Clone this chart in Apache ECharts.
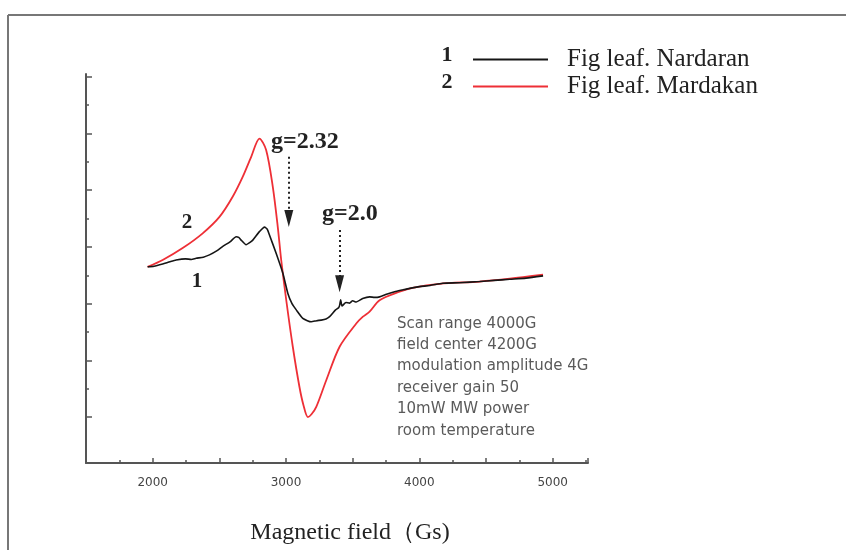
<!DOCTYPE html>
<html>
<head>
<meta charset="utf-8">
<script src="https://cdn.jsdelivr.net/npm/echarts@6/dist/echarts.min.js"></script>
<style>
html,body{margin:0;padding:0;background:#fff;}
#chart{width:846px;height:550px;}
</style>
</head>
<body>
<div id="chart"></div>
<script>
// ---- data (field in G, intensity in arbitrary units) ----
const seriesNames = ['Fig leaf. Nardaran', 'Fig leaf. Mardakan'];
const fieldBlack = [1962, 2010, 2075, 2130, 2176, 2246, 2290, 2326, 2380, 2426, 2480, 2526, 2580, 2626, 2645, 2660, 2701, 2730, 2751, 2801, 2839, 2860, 2876, 2926, 2976, 3014, 3045, 3077, 3126, 3160, 3189, 3230, 3264, 3300, 3327, 3372, 3395, 3402, 3410, 3420, 3450, 3477, 3500, 3527, 3575, 3627, 3665, 3702, 3760, 3815, 3870, 3927, 4000, 4080, 4175, 4300, 4453, 4560, 4678, 4800, 4928];
const intensityBlack = [2.65, 2.66, 2.70, 2.74, 2.77, 2.79, 2.78, 2.80, 2.82, 2.86, 2.93, 3.01, 3.09, 3.18, 3.17, 3.13, 3.04, 3.08, 3.12, 3.27, 3.35, 3.31, 3.21, 2.89, 2.54, 2.18, 2.00, 1.89, 1.74, 1.70, 1.68, 1.70, 1.71, 1.73, 1.77, 1.89, 1.93, 1.97, 2.07, 1.96, 2.02, 2.01, 2.05, 2.03, 2.09, 2.12, 2.11, 2.12, 2.17, 2.21, 2.24, 2.27, 2.30, 2.32, 2.36, 2.37, 2.39, 2.41, 2.43, 2.45, 2.49];
const fieldRed = [1962, 2075, 2225, 2375, 2501, 2601, 2676, 2739, 2801, 2851, 2901, 2938, 2964, 3002, 3051, 3101, 3131, 3164, 3191, 3227, 3302, 3402, 3527, 3577, 3627, 3702, 3852, 3950, 4153, 4453, 4678, 4928];
const intensityRed = [2.65, 2.77, 2.98, 3.24, 3.53, 3.89, 4.24, 4.59, 4.91, 4.71, 4.06, 3.36, 2.77, 2.06, 1.24, 0.53, 0.21, 0.0, 0.05, 0.18, 0.65, 1.24, 1.65, 1.77, 1.86, 2.06, 2.21, 2.28, 2.35, 2.39, 2.44, 2.51];
// arrows marking the g-values: [field, start intensity, end intensity]
const arrowG232 = [3021, 4.59, 3.50];
const arrowG20 = [3402, 3.30, 2.35];
const xTickLabels = [2000, 3000, 4000, 5000];
const yMajorTicks = [0, 1, 2, 3, 4, 5, 6];
const yMinorTicks = [0.5, 1.5, 2.5, 3.5, 4.5, 5.5];
const infoLines = ['Scan range 4000G', 'field center 4200G', 'modulation amplitude 4G', 'receiver gain 50', '10mW MW power', 'room temperature'];

const zip = (xs, ys) => xs.map((x, i) => [x, ys[i]]);
const axisColor = '#555';

const chart = echarts.init(document.getElementById('chart'), null, {renderer: 'canvas'});
const arrowLine = (a) => [{coord: [a[0], a[1]]}, {coord: [a[0], a[2]]}];

chart.setOption({
  animation: false,
  backgroundColor: '#fff',
  grid: {left: 86, top: 74, right: 258, bottom: 87, containLabel: false},
  legend: {
    orient: 'vertical',
    left: 468,
    top: 41,
    icon: 'rect',
    itemWidth: 75,
    itemHeight: 2,
    itemGap: 0,
    data: seriesNames,
    textStyle: {fontFamily: 'Liberation Serif', fontSize: 25, color: '#222', lineHeight: 27, padding: [0, 0, 0, 14]}
  },
  xAxis: {
    type: 'value',
    min: 1500,
    max: 5265,
    interval: 500,
    axisLine: {onZero: false, lineStyle: {color: axisColor, width: 2}},
    axisTick: {inside: true, length: 5, lineStyle: {color: axisColor, width: 1.5}},
    minorTick: {show: true, splitNumber: 2, length: 3, lineStyle: {color: axisColor, width: 1.5}},
    splitLine: {show: false},
    axisLabel: {
      margin: 14,
      fontFamily: 'DejaVu Sans',
      fontSize: 12,
      color: '#444',
      formatter: (v) => (xTickLabels.indexOf(v) >= 0 ? String(v) : '')
    },
    name: 'Magnetic field（Gs)',
    nameLocation: 'middle',
    nameGap: 58,
    nameTextStyle: {fontFamily: 'Liberation Serif', fontSize: 24, color: '#222', padding: [0, 0, 0, 26]}
  },
  yAxis: [{
    type: 'value',
    min: -0.81,
    max: 6.05,
    axisLine: {show: true, onZero: false, lineStyle: {color: axisColor, width: 2}},
    axisTick: {show: true, inside: true, length: 6, customValues: yMajorTicks, lineStyle: {color: axisColor, width: 1.5}},
    axisLabel: {show: false, customValues: yMajorTicks},
    splitLine: {show: false}
  }, {
    type: 'value',
    min: -0.81,
    max: 6.05,
    position: 'left',
    axisLine: {show: false, onZero: false},
    axisTick: {show: true, inside: true, length: 3, customValues: yMinorTicks, lineStyle: {color: axisColor, width: 1.5}},
    axisLabel: {show: false, customValues: yMinorTicks},
    splitLine: {show: false}
  }],
  series: [{
    name: seriesNames[0],
    type: 'line',
    data: zip(fieldBlack, intensityBlack),
    symbol: 'none',
    smooth: 0.2,
    z: 3,
    lineStyle: {color: '#151515', width: 1.6},
    itemStyle: {color: '#151515'},
    emphasis: {disabled: true},
    markLine: {
      silent: true,
      symbol: ['none', 'triangle'],
      symbolSize: [9, 17],
      label: {show: false},
      lineStyle: {color: '#222', type: [2, 3], width: 2},
      data: [arrowLine(arrowG232), arrowLine(arrowG20)]
    }
  }, {
    name: seriesNames[1],
    type: 'line',
    data: zip(fieldRed, intensityRed),
    symbol: 'none',
    smooth: 0.3,
    z: 2,
    lineStyle: {color: '#ee2f36', width: 1.8},
    itemStyle: {color: '#ee2f36'},
    emphasis: {disabled: true}
  }],
  graphic: [
    {type: 'line', shape: {x1: 8, y1: 15, x2: 846, y2: 15}, style: {stroke: '#777', lineWidth: 2}},
    {type: 'line', shape: {x1: 8, y1: 15, x2: 8, y2: 550}, style: {stroke: '#777', lineWidth: 2}},
    {type: 'text', x: 447, y: 55, style: {text: '1', fontFamily: 'Liberation Serif', fontWeight: 'bold', fontSize: 22, fill: '#222', align: 'center', verticalAlign: 'middle'}},
    {type: 'text', x: 447, y: 82, style: {text: '2', fontFamily: 'Liberation Serif', fontWeight: 'bold', fontSize: 22, fill: '#222', align: 'center', verticalAlign: 'middle'}},
    {type: 'text', x: 271, y: 142, style: {text: 'g=2.32', fontFamily: 'Liberation Serif', fontWeight: 'bold', fontSize: 24, fill: '#222', align: 'left', verticalAlign: 'middle'}},
    {type: 'text', x: 322, y: 214, style: {text: 'g=2.0', fontFamily: 'Liberation Serif', fontWeight: 'bold', fontSize: 24, fill: '#222', align: 'left', verticalAlign: 'middle'}},
    {type: 'text', x: 187, y: 223, style: {text: '2', fontFamily: 'Liberation Serif', fontWeight: 'bold', fontSize: 21, fill: '#222', align: 'center', verticalAlign: 'middle'}},
    {type: 'text', x: 197, y: 282, style: {text: '1', fontFamily: 'Liberation Serif', fontWeight: 'bold', fontSize: 21, fill: '#222', align: 'center', verticalAlign: 'middle'}},
    {type: 'text', x: 397, y: 313, style: {text: infoLines.join('\n'), fontFamily: 'DejaVu Sans', fontSize: 15, lineHeight: 21.4, fill: '#5a5a5a', align: 'left', verticalAlign: 'top'}}
  ]
});
</script>
</body>
</html>
